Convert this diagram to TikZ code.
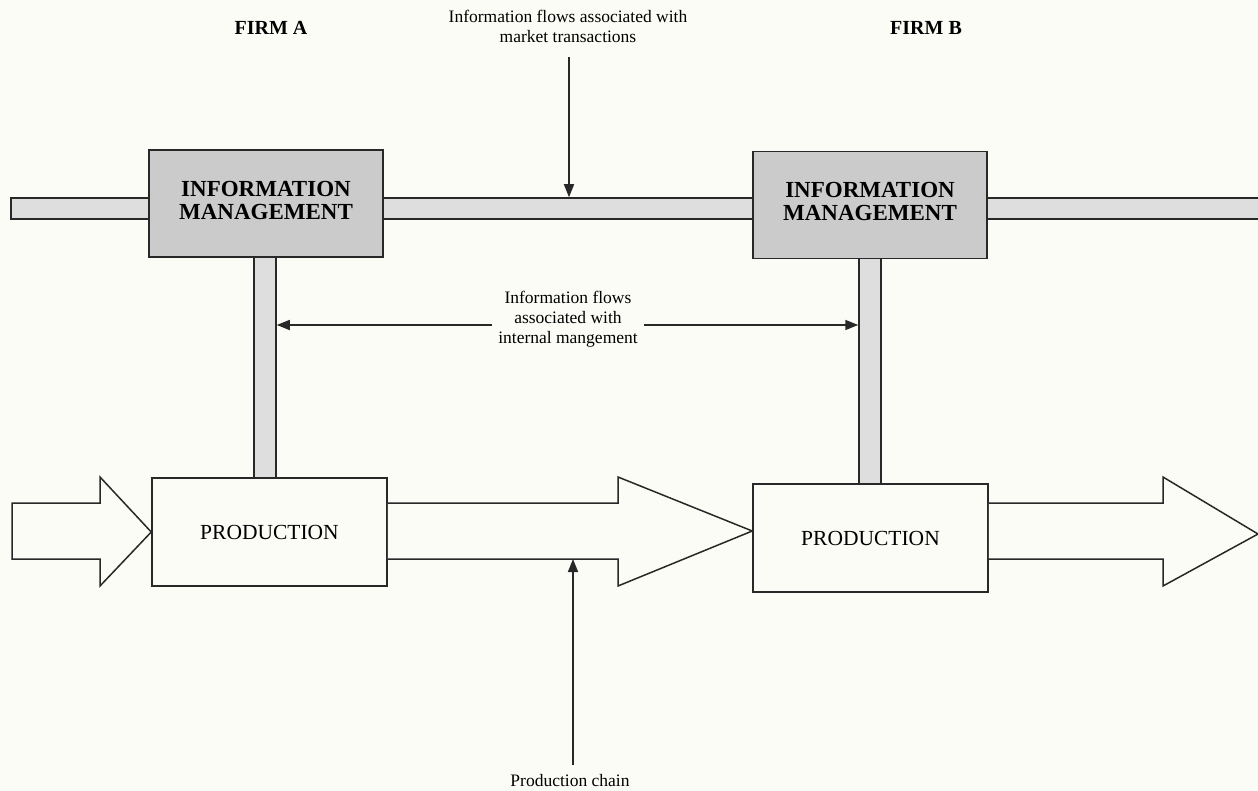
\documentclass[tikz,border=0pt]{standalone}
\usepackage{fontspec}
\setmainfont{Liberation Serif}
\usetikzlibrary{arrows.meta,calc}
\definecolor{bg}{RGB}{252,252,247}
\definecolor{boxgray}{RGB}{203,203,203}
\definecolor{bargray}{RGB}{222,222,222}
\definecolor{ink}{RGB}{40,40,40}
\begin{document}
\begin{tikzpicture}[x=1pt,y=-1pt,
 infobox/.style={draw=ink,line width=1.8pt,fill=boxgray,minimum width=234pt,minimum height=107pt,inner sep=0pt},
 infotext/.style={inner sep=0pt,font=\fontsize{23}{23}\selectfont\bfseries,align=center},
 prodbox/.style={draw=ink,line width=1.5pt,fill=bg,minimum width=235pt,minimum height=108pt,inner sep=0pt,font=\fontsize{21.5}{24}\selectfont},
 bar/.style={draw=ink,line width=1.5pt,fill=bargray,inner sep=0pt},
 bigarrow/.style={draw=ink,line width=1.5pt,fill=bg,line join=miter},
 lbl/.style={font=\fontsize{17.5}{20}\selectfont,align=center,inner sep=6pt},
 firm/.style={font=\fontsize{20}{22}\selectfont\bfseries},
 pointer/.style={draw=ink,line width=1.6pt,-{Triangle[length=13pt,width=10pt]}}]
\fill[bg] (0,0) rectangle (1258,791);
\useasboundingbox (0,0) rectangle (1258,791);
% bars
\node[bar,minimum width=22pt,minimum height=222pt] (barA) at (265,367) {};
\node[bar,minimum width=22pt,minimum height=226pt] (barB) at (870,371) {};
\node[bar,minimum width=138pt,minimum height=21pt] (barL) at (80,208.5) {};
\node[bar,minimum width=372pt,minimum height=21pt] (barM) at (568,208.5) {};
\node[bar,minimum width=285pt,minimum height=21pt] (barR) at (1129,208.5) {};
% boxes
\node[infobox] (infoA) at (266,203.5) {};
\node[infotext] (infoAt) at ([yshift=3.5pt]infoA.center) {INFORMATION\\MANAGEMENT};
\node[infobox] (infoB) at (870,205) {};
\node[infotext] (infoBt) at ([yshift=3.5pt]infoB.center) {INFORMATION\\MANAGEMENT};
\node[prodbox] (prodA) at (269.5,532) {PRODUCTION};
\node[prodbox] (prodB) at (870.5,538) {PRODUCTION};
% production arrows
\draw[bigarrow] (12,503) -- (100,503) -- (100,477) -- (prodA.west) -- (100,586) -- (100,559) -- (12,559) -- cycle;
\coordinate (ytop) at (0,503);
\coordinate (ybot) at (0,559);
\coordinate (ymid) at (0,531);
\draw[bigarrow] (prodA.east |- ytop) -- (618,503) -- (618,477) -- (prodB.west |- ymid) -- (618,586) -- (618,559) -- (prodA.east |- ybot);
\draw[bigarrow] (prodB.east |- ytop) -- (1163,503) -- (1163,477) -- (1258,534) -- (1163,586) -- (1163,559) -- (prodB.east |- ybot);
% labels
\node[firm] (firmA) at (271,28) {FIRM A};
\node[firm] (firmB) at (926,28) {FIRM B};
\node[lbl] (mkt) at (568,26) {Information flows associated with\\market transactions};
\coordinate (mktstart) at (569,57);
\draw[pointer] (mktstart) -- (mktstart |- barM.north);
\node[lbl] (intl) at (568,319) {Information flows\\associated with\\internal mangement};
\coordinate (iy) at (0,325);
\draw[pointer] (intl.west |- iy) -- (barA.east |- iy);
\draw[pointer] (intl.east |- iy) -- (barB.west |- iy);
\node[lbl] (pc) at (570,781) {Production chain};
\coordinate (pcstart) at (573,765);
\coordinate (pcend) at (573,559);
\draw[pointer] (pcstart) -- (pcend);
\end{tikzpicture}
\end{document}
